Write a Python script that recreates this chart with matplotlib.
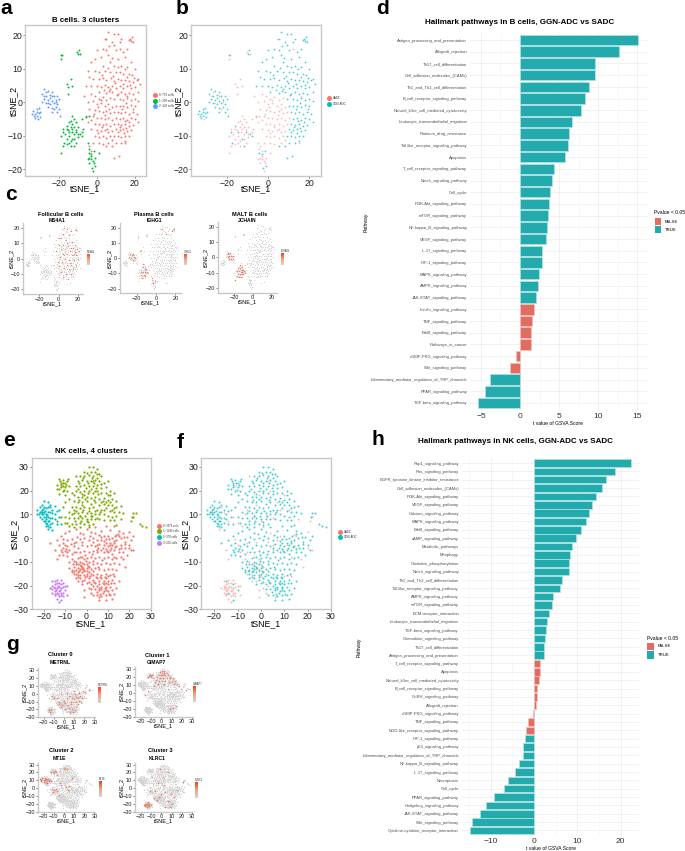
import matplotlib
matplotlib.use("Agg")
import matplotlib.pyplot as plt
import numpy as np
from matplotlib.colors import LinearSegmentedColormap
from matplotlib.patches import Rectangle

plt.rcParams['font.family'] = ['Liberation Sans', 'DejaVu Sans']

W, H = 685, 851

RED = "#F8766D"
TEAL = "#00BFC4"
BAR_RED = "#E06C62"
BAR_TEAL = "#22AAAD"

B0_GGN = [(6,21),(9,20.5),(11,20.5),(13,19),(5,19),(8,18),(12,18),(17.5,19),(18,18.3),(19,18),(17,18.5),(18.5,19.5),
 (3,16),(5,15.5),(9,17),(10,15.5),(14,15),(16,16),(0,15.5),(-1,13),(2,13.5),(6,14),(11,13),(15,13.5),(18,12),
 (-3,12),(3,11),(7,12),(9,11),(13,11),(16,10.5),(20,10),(-5,9.5),(-1,9.5),(1,9),(4,9.3),(7,9),(10,9.2),(12,9),
 (14,8.5),(17,8.5),(18.5,8.3),(22,7),(-4,7.5),(-2,7),(1,7),(3,7.2),(5,6.8),(7.5,7.2),(9,6.5),(11,7),(13,6.6),
 (15,6.8),(17,6.4),(19,6),(21,6.6),(-6,5),(-3,4.8),(0,5),(2,4.5),(4,5.2),(6,4.6),(7,4),(8,5),(10,4.4),(12,4.8),
 (14,4.2),(16,4.8),(18,4.2),(20,4.6),(23,5.5),(1,3),(5,2.8),(8,3.2),(11,2.5),(13,3),(15,2.4),(17,2.8),(19,2.5),
 (22,3),(9,1),(12,1),(14,0.6),(16,1.2),(18,0.6),(20,1),(22,0.5),(10,-1),(12,-1.2),(14,-1),(16,-1.4),(18,-0.8),
 (20,-1.2),(11,-3),(13,-3.2),(15,-2.8),(17,-3.4),(19,-3),(21,-3.5),(12,-5),(14,-4.6),(16,-5.2),(18,-4.8),(20,-5),
 (22,-6),(11,-6.5),(13,-6.8),(15,-6.4),(17,-7),(19,-6.8),(10,-8),(12,-8.4),(14,-8),(16,-8.6),(18,-8.2),(9,-10),
 (11,-10),(13,-10.4),(15,-10),(17,-10.2),(10,-12),(13,-12),(15,-11.6),(8,-13),(5,-13),(9,-16.5),(11.5,-16),
 (2.5,8.2),(5.6,10.4),(8.4,8),(11.3,10.6),(14.6,10),(15.8,7.7),(19.4,7.4),(6.5,3.4),(9.6,5.7),(3.6,3.6),(13.6,5.5),(17.7,5.3),
 (10.5,2.2),(15.5,-0.2),(19.3,-2.1),(13.4,-2),(17.2,-5.8),(14.7,-5.6),(12.4,-7.4),(15.4,-7.6),(11.2,-9),(14.2,-9.3),(6.6,16.7),(7.8,13.3)]
B0_SADC = [(-7,2),(-3,2.5),(-1,2),(1,1),(3,1.5),(5,0.6),(7,1.2),(-5,0),(-2,0.3),(0,-0.6),(2,-0.2),(4,-1),(6,-0.6),(8,-1.4),
 (-4,-2),(-1,-2.2),(1,-2.6),(3,-3),(5,-2.6),(7,-3.2),(9,-3),(-6,-4),(-2,-4.2),(0,-4.6),(2,-4.8),(4,-5),(6,-4.6),(8,-5.2),
 (10,-4.6),(-5,-6),(-1,-6.4),(1,-6.6),(3,-6.8),(5,-6.4),(7,-7),(9,-6.6),(-3,-8),(0,-8.2),(2,-8.6),(4,-8.4),(6,-9),(8,-8.6),
 (-1,-10),(1,-10.4),(3,-10),(5,-10.6),(7,-10.2),(-2,-12),(1,-12),(3,-12.5),(6,-12),(-4,-13),(-3,-14.5),(16,2),(15,-12),(4,19),(12,16),
 (2,0.8),(4.5,-3.8),(0.4,-1.4),(6.3,-2),(-3,-5.3),(2.6,-7.5),(5.4,-8),(0.6,-9.3),(8,-11.3),(-1.4,-3.4)]
B1_GGN = [(-19,14.2),(-9.5,15.5),(-10,14.4),(-15,-9),(-13,-11),(-11,-9),(-9,-9.6),(-17.5,-12),(-16,-7),(-8,-10),(-18,-9),
 (-12,-13),(-3,-15.5),(-1,-19),(-2.5,-19.5),(-1.5,-14.5),(-4.5,-15)]
B1_SADC = [(-19,13),(-18.5,14),(-10.5,15),(-9,14.5),(-14,7),(-16,5.5),(-15.5,4.5),(-13,5),(-15.5,2.5),(-6,-4.5),(-8,-5),(-4.5,-4),
 (-13,-4),(-12,-5),(-14,-5.5),(-15,-6),(-11,-6),(-13,-6.5),(-16,-8),(-14,-7.5),(-12,-7.5),(-10,-7.5),(-17,-9.5),(-15,-10),
 (-13.5,-9),(-12,-9.5),(-10,-9.5),(-8,-9),(-7.5,-8),(-16,-11),(-14,-11.5),(-12,-11),(-10,-10.5),(-16,-12.5),(-14,-13),(-19,-10),
 (-19,-15),(-18,-13),(-5,-12),(-4.5,-14),(-4,-16.5),(-3,-17),(-5,-17),(-2,-17.5),(-1,-16.5),(1,-15),(-4,-18),(-2,-20.5),(-1.5,-18),(-3,-16),
 (-15.5,-8.4),(-13,-8),(-11,-8.3),(-14.6,-12),(-18,-8),(-11,-12)]
B2_GGN = [(-28,4),(-26,3.5),(-24,3),(-29,2.5),(-27,2),(-25,2.2),(-23,1.8),(-21,2),(-28,1),(-26,0.8),(-25,1.2),(-24,0.5),(-22,0.8),
 (-20,1),(-29,0),(-27,-0.3),(-25,-0.5),(-23,-0.3),(-21,-0.6),(-26,-1.5),(-24,-1.8),(-22,-1.5),(-20,-2),(-24,-3),(-21,-3),(-19.5,-4),
 (-34,-2.5),(-33,-3.5),(-32,-2.8),(-31,-3.2),(-33.5,-4.2),(-32,-4),(-30.5,-4.3),(-32,-2),(-31,-1.6),(-34.5,-3.5),(-33,-4.8),(-30,-3)]
B2_SADC = [(-27,3),(-24,2),(-26,-0.2),(-22,0),(-28,2),(-23,-2),(-31.5,-5)]

NK0_GGN = [(-17,-2),(-14,-1),(-12,1),(-10,2),(-8,3),(-5,4),(-3,2),(0,4),(2,2.5),(4,4.5),(7,3),(9,5),(11,3.5),(13,5),(15,3),(17,2),(19,0.5),
 (21,-1),(22,1),(-13,-3),(-11,-2),(-9,-1),(-7,-0.5),(-5,-1.5),(-3,-0.5),(-1,0),(1,-1),(3,0),(5,-1),(7,0.5),(9,-0.5),(10,1),(12,0),(14,-1),
 (16,0),(18,-1.5),(20,-3),(-12,-5),(-11,-4),(-10,-5.5),(-9,-3.5),(-8,-5),(-6,-3.5),(-4,-4),(-2,-3),(0,-3.5),(2,-3),(4,-3.5),(6,-2.5),(8,-3),
 (9,-2),(10,-3.5),(11,-2),(12,-3),(13,-2),(14,-3.5),(16,-3),(18,-4),(-13,-7),(-11,-7),(-9,-7.5),(-7,-6.5),(-3,-6),(-1,-5.5),(1,-6),(3,-5.5),
 (5,-6),(7,-5),(8,-6),(9,-4.5),(10,-6),(11,-5),(12,-6.5),(13,-5),(15,-6),(17,-6),(19,-7),(21,-5),(-4,-8.5),(-2,-8),(0,-8.5),(2,-8),(4,-8.5),
 (6,-8),(8,-8.5),(10,-8),(12,-9),(14,-8.5),(16,-8),(-8,-10),(-6,-9.5),(-5,-11),(-3,-10),(-1,-11),(1,-10),(3,-11),(5,-10.5),(7,-11),(9,-10.5),
 (11,-11),(13,-10.5),(15,-11),(-8,-12.5),(-6,-12),(-5,-13.5),(-4,-12.5),(-3,-13),(-2,-12),(-1,-13.5),(0,-12.5),(2,-13),(4,-12.5),(6,-13),
 (8,-13.5),(10,-13),(12,-13),(14,-13.5),(-7,-14.5),(-5,-15),(-4,-14.5),(-3,-15.5),(-2,-14.5),(-1,-15.5),(0,-15),(1,-14.5),(3,-15.5),(5,-15),
 (7,-15.5),(9,-15),(11,-15.5),(-5,-17),(-3,-17),(-1,-17.5),(1,-17),(3,-17.5),(5,-17),(6,-18),(7,-17),(8,-18),(9,-17),(10,-18),(12,-17.5),
 (-2,-19.5),(0,-19),(2,-19.5),(4,-19),(5,-20),(6,-19.5),(7,-20.5),(8,-19.5),(9,-20.5),(10,-19.5),(11,-20.5),(13,-19),(15,-18),(2,-21.5),(4,-21.5),
 (6,-22),(7,-21.5),(8,-22.5),(9,-22),(10,-22.5),(12,-22),(14,-21),(3,-24),(5,-24),(7,-24.5),(9,-24),(11,-24),(13,-23.5),(6,-26),(9,-26),(12,-25.5),
 (-11.5,-6),(-9.6,-4.4),(-7.3,-2.3),(-4.6,0.6),(-1.5,1.7),(1.4,1),(5.7,1.4),(8.3,-1.2),(10.6,-0.6),(12.7,-1.2),(13.4,0.8),(9.6,-5.3),(11.5,-4),(13.5,-3.7),(7.7,-4),
 (15,-4.6),(5.3,-4.2),(2.7,-6.6),(-0.6,-7.2),(-4.8,-6),(7.2,-9.4),(3.2,-9.5),(-0.4,-9.6),(-6.4,-11),(-4,-11),(-2.2,-10.6),(0.5,-11.7),(-6.7,-13.3),(-3.5,-14),(-1.7,-12.8),
 (-5.7,-14),(-2.8,-11.8),(0.3,-13.8),(3,-14),(5.5,-12),(-3.8,-16.2),(-0.7,-16.2),(1.8,-16.1),(4.2,-16.4),(6.4,-16.2),(8.6,-16.4),(5.8,-21),(7.6,-18.8),(9,-18.8),(11.4,-19),
 (7.8,-23.2),(4.8,-22.7),(10.3,-23.4),(6.4,-23.6),(8.8,-21.2),(3.4,-18.3),(1,-18.5),(12.4,-15),(16.2,-4.3),(18.2,-2.7),(17.6,0.4),(14.8,1.6)]
NK0_SADC = [(-15,-5),(-10,-3),(-6,-2),(-2,-1.5),(3,-1.5),(7,-1),(15,1),(20,-4),(-7,-9),(-3,-8),(-1,-9),(-5,-10),(-3,-11.5),(-2,-13),(-4,-15.5),
 (-1,-14),(0,-11),(-6,-15),(2,-15),(1,-12),(-4,-18),(0,-16),(-2,-18),(3,-20),(1,-21),(6,-25),(-1,-22),(2,-23),(11,-3),(5,-3),(8,1),(13,-8),
 (17,-9),(-11,-0.5),(-14,-9),(20,2.5),(5,-5),(-6,-6),(4,2),(10,-16),(-9,-6),(13,-16),(-1,-25),(18,-12),(22,-5),(14,1.5)]
NK1_GGN = [(1,30),(3,30),(5,29),(-1,28),(2,28),(4,28),(6,27),(-3,26),(-1,26),(1,26.5),(3,26),(5,25.5),(7,26),(-4,24),(-2,24.5),(0,24),(2,24),(4,24.5),
 (6,24),(8,23),(10,24),(-5,22),(-3,22),(-1,22.5),(1,22),(3,22),(5,22.5),(7,21),(9,21.5),(11,20),(-5,20),(-3,19.5),(-1,20),(1,20),(3,19),(5,20),(7,19),
 (9,19),(11,18),(13,19),(-6,18),(-4,17.5),(-2,17.5),(0,17.5),(2,17),(4,17.5),(6,16.5),(8,17),(10,16),(12,16.5),(14,15.5),(-6,15.5),(-4,15),(-2,15),(0,15.5),
 (2,14.5),(4,15),(6,14),(8,14.5),(10,14),(12,14),(14,13),(16,13.5),(-7,13),(-5,13),(-3,12.5),(-1,13),(1,12.5),(3,13),(5,12),(7,12),(9,12.5),(11,11.5),
 (13,11),(15,11),(17,10.5),(-8,11),(-6,10.5),(-4,10.5),(-2,11),(0,10.5),(2,10.5),(4,10),(6,10),(8,10),(10,9.5),(12,9),(14,9.5),(-10,9),(-8,8.5),(-6,8.5),
 (-4,8.5),(-2,8.5),(0,8),(2,8),(4,8),(6,8),(8,7.5),(11,7.5),(13,7.5),(-9,6.5),(-7,6),(-5,6),(-3,6.5),(-1,6),(1,5.5),(3,6),(-6,4.5),(-3,4.5),(14,5.5),
 (-13,25),(-12,23),(-11,24.5),(-10,23),(-9,24),(-14,22.5),(-12,21.5),(-10,21.5),(-8,22),(-13,20.5),(-11,20),(-9,20),(-13,18.5),(-10,18),(-7,19),(-8,16.5),
 (-10,15),(-11,13),(22,10.5),(21.5,9),(23,10.5),(26,5),(28,4.5),(25,6),
 (0.4,27.4),(2.6,25.2),(4.8,26.8),(-1.8,25.2),(0.8,23),(-3.4,23.2),(3.3,23),(6.8,22.6),(-0.4,21),(2.2,20.7),(4.6,21),(-4.2,20.8),(-2,18.6),(0.7,18.8),(3.4,16),
 (-3.6,16.2),(-0.8,16.4),(5.3,18.4),(7.8,15.5),(-5,11.6),(-1.6,11.8),(1.2,11.4),(4,11.5),(6.5,11),(-3.2,9.4),(-0.6,9.2),(2.6,9.2),(-5.2,7.2),(-2.4,7.4),(0.8,6.8),
 (9.2,15.2),(11,15),(13,12.5),(-11.8,22.4),(-10.8,23.4),(-9.4,22.2),(-12.5,24),(-10.4,20.4),(-14,20.5),(-8.5,25)]
NK1_SADC = [(-5,26),(4,20),(-2,14),(2,9.5),(8,12),(-6,12),(10,18),(-11,22),(-8,5),(0,7),(5,8.5),(-12,9),(-3,9.5),(12,12),(-1,18),(3,24),(7,15),(16,8),(-7,10),(1,4.5),
 (22,9),(21,7),(-14,7),(-10,6.5)]
NK2_GGN = [(-23,12),(-22,13),(-21,14),(-20,15.5),(-18,15),(-17,14),(-15,13.5),(-23,10),(-22,11),(-21,12),(-20,13),(-19,12.5),(-18,13),(-16,12),(-14,11.5),(-13,12),
 (-22,9),(-21,10),(-20,11),(-19,10),(-18,11),(-17,11),(-15,10),(-13,9),(-21,8),(-20,9),(-19,8),(-18,9),(-17,8.5),(-15,8),(-20,7),(-19,6.5),(-18,7),(-17,6),(-16,6.5),
 (-19,5),(-18,5),(-17,4.5),(-16,3.5),(-14,6),(-12,6),(-21.4,11),(-20.4,10),(-19.4,11.6),(-18.6,9.8),(-20.6,12.4),(-19.6,7.4),(-18.4,6),(-17.6,7.4),(-16,8.6),(-22.4,10.2)]
NK2_SADC = [(-19,9),(-16,10.5),(-21,11),(-18,4),(-17,13)]
NK3_GGN = [(-15,-18),(-12,-19.5),(-14,-23),(-10,-22),(-12,-26)]
NK3_SADC = [(-16,-18),(-14,-17.5),(-12,-17.5),(-16,-20),(-15,-19.5),(-14,-19),(-13,-19),(-11,-19),(-17,-21),(-16,-21.5),(-15,-21),(-14,-21),(-13,-20.5),(-12,-21),
 (-11,-20.5),(-10,-20),(-9,-20),(-16,-23),(-15,-22.5),(-13,-22.5),(-12,-23),(-11,-23),(-15,-24),(-13,-24.5),(-11,-24.5),(-14,-25.5),(-13,-27),(-9,-24),
 (-15.4,-20.4),(-13.6,-20),(-14.4,-22),(-12.6,-22),(-13.6,-23.6),(-12,-24),(-15,-23.4)]

# cells lit up in the feature plots of panels c/g
HOT_MS4A1 = [(6,20),(9,19),(13,18),(18,18.5),(5,16),(11,15),(3,13),(8,12),(14,11),(17,9),(1,9),(5,9),(10,8),(15,7),(19,6),(3,6),(7,6),(12,5),(17,4),(21,5),(-3,5),
 (5,3),(9,3),(14,2),(18,2),(2,1),(7,0),(11,-1),(16,-1),(20,0),(-1,-2),(4,-2),(9,-4),(13,-4),(18,-4),(1,-5),(6,-6),(11,-7),(15,-7),(3,-9),(8,-10),(13,-10),(5,-12),(10,-13),
 (0,13),(13,7),(9,10),(16,3),(6,2),(12,-3)]
HOT_IGHG1 = [(-27,3),(-25,2),(-23,1),(-26,0),(-24,-1),(-22,0),(-14,-6),(-12,-7),(-16,-9),(-14,-9),(-11,-9),(-9,-9),(-16,-11),(-13,-11),(-15,-13),(-4,-13),(-3,-16),(-1,-15),
 (17,18),(19,19),(10,16),(6,19),(-17,5),(-24,3),(-28,1),(-10,-7),(-12,-12),(-14,-4)]
HOT_JCHAIN = [(-27,3),(-26,2),(-24,3),(-25,1),(-23,1),(-27,0),(-25,-1),(-23,-1),(-21,-1),(-21,1),(-14,-5),(-12,-6),(-16,-7),(-14,-7),(-12,-8),(-10,-8),(-17,-9),(-15,-9),(-13,-9.5),
 (-11,-9.5),(-9,-9),(-8,-10),(-16,-11),(-14,-11),(-12,-11),(-10,-11),(-15,-13),(-13,-13),(-17,-12),(-19,-15)]
HOT_METRNL = [(8,-5),(10,-7),(12,-4),(14,-6),(16,-3),(18,-5),(9,-10),(12,-10),(15,-9),(7,-13),(4,-14),(1,-12),(-2,-14),(-5,-13),(-3,-17),(1,-19),(5,-18),(8,-20),(11,-21),(9,-24),(6,-23),
 (12,-17),(-15,-21),(-13,-20),(-14,-24),(-10,-5),(-12,-3),(-7,-6),(3,-6),(6,-3),(11,-1),(15,1),(19,3),(10,3),(3,1),(-3,-1),(14,-13),(17,-10),(7,-10),(0,-9),(-5,-10),(21,2),(25,5)]
HOT_GIMAP7 = [(1,28),(3,27),(-1,26),(1,25),(3,24.5),(5,25),(-2,23),(0,22),(2,22),(4,22),(6,22),(8,20),(-4,20),(-1,19),(2,19),(5,18),(8,18),(11,17),(-5,16),(-2,15),(1,15),(4,15),(7,14),
 (10,14),(13,15),(-11,22),(-12,21),(-10,21),(-9,23),(-13,20),(-8,19),(-6,13),(-3,11),(3,11),(12,11),(15,11),(17,8),(-7,8),(-13,2),(-16,-3),(6,5),(19,5),(24,3),(14,-17),(8,-21),(11,-19)]
HOT_MT1E = [(-23,12),(-22,10),(-21,13),(-20,11),(-19,13),(-18,12),(-22,9),(-20,8),(-19,10),(-18,8),(-17,10),(-16,12),(-15,9),(-14,11),(-13,9),(-17,6),(-11,21),(-9,22),(-13,20),(-10,19),(-8,20),(-7,17),
 (-12,-1),(-10,-3),(-8,-1),(-11,-5),(-7,-4),(1,26),(3,25),(0,24),(5,3),(2,1),(-3,4),(4,-2),(-5,-9),(8,13),(-4,7)]
HOT_KLRC1 = [(-16,-20),(-15,-22),(-14,-20),(-13,-21),(-12,-23),(-14,-24),(-16,-23),(-12,-20),(-13,-18),(-10,-22),(-17,-21),(-7,-13),(-4,-15),(-2,-11),(0,-7),(4,-5),(9,-8),(-6,-4),(-3,7),(2,14),(6,20),(-1,25),
 (10,-20),(6,-16),(12,-12),(15,-3),(21,8),(3,4),(-9,14),(-11,-4),(4,-24),(8,-24)]

# clusters and legends
B_LEGEND = ["0~759 cells", "1~209 cells", "2~128 cells"]
B_COLORS = ["#F8766D", "#00BA38", "#619CFF"]
NK_LEGEND = ["0~2376 cells", "1~1486 cells", "2~370 cells", "3~200 cells"]
NK_COLORS = ["#F8766D", "#7CAE00", "#00BFC4", "#C77CFF"]
COND_LABELS = ["SADC", "GGN-ADC"]

# bar panels
B_PATHWAYS = ["Antigen_processing_and_presentation", "Allograft_rejection", "Th17_cell_differentiation",
 "Cell_adhesion_molecules_(CAMs)", "Th1_and_Th2_cell_differentiation", "B_cell_receptor_signaling_pathway",
 "Natural_killer_cell_mediated_cytotoxicity", "Leukocyte_transendothelial_migration", "Platinum_drug_resistance",
 "Toll-like_receptor_signaling_pathway", "Apoptosis", "T_cell_receptor_signaling_pathway", "Notch_signaling_pathway",
 "Cell_cycle", "PI3K-Akt_signaling_pathway", "mTOR_signaling_pathway", "NF-kappa_B_signaling_pathway",
 "VEGF_signaling_pathway", "IL-17_signaling_pathway", "HIF-1_signaling_pathway", "MAPK_signaling_pathway",
 "AMPK_signaling_pathway", "JAK-STAT_signaling_pathway", "Insulin_signaling_pathway", "TNF_signaling_pathway",
 "ErbB_signaling_pathway", "Pathways_in_cancer", "cGMP-PKG_signaling_pathway", "Wnt_signaling_pathway",
 "Inflammatory_mediator_regulation_of_TRP_channels", "PPAR_signaling_pathway", "TGF-beta_signaling_pathway"]
B_TVALUES = [15.15, 12.6, 9.6, 9.55, 8.85, 8.3, 7.85, 6.6, 6.2, 6.1, 5.8, 4.4, 4.05, 3.85, 3.7, 3.6, 3.45, 3.35, 2.8, 2.8,
 2.45, 2.3, 2.1, 1.8, 1.5, 1.4, 1.35, -0.55, -1.25, -3.85, -4.45, -5.35]
B_NOT_SIG = ["Insulin_signaling_pathway", "TNF_signaling_pathway", "ErbB_signaling_pathway", "Pathways_in_cancer",
 "cGMP-PKG_signaling_pathway", "Wnt_signaling_pathway"]

NK_PATHWAYS = ["Rap1_signaling_pathway", "Ras_signaling_pathway", "EGFR_tyrosine_kinase_inhibitor_resistance",
 "Cell_adhesion_molecules_(CAMs)", "PI3K-Akt_signaling_pathway", "VEGF_signaling_pathway", "Calcium_signaling_pathway",
 "MAPK_signaling_pathway", "ErbB_signaling_pathway", "cAMP_signaling_pathway", "Metabolic_pathways", "Mitophagy",
 "Oxidative_phosphorylation", "Notch_signaling_pathway", "Th1_and_Th2_cell_differentiation",
 "Toll-like_receptor_signaling_pathway", "AMPK_signaling_pathway", "mTOR_signaling_pathway", "ECM-receptor_interaction",
 "Leukocyte_transendothelial_migration", "TGF-beta_signaling_pathway", "Chemokine_signaling_pathway",
 "Th17_cell_differentiation", "Antigen_processing_and_presentation", "T_cell_receptor_signaling_pathway", "Apoptosis",
 "Natural_killer_cell_mediated_cytotoxicity", "B_cell_receptor_signaling_pathway", "GnRH_signaling_pathway",
 "Allograft_rejection", "cGMP-PKG_signaling_pathway", "TNF_signaling_pathway", "NOD-like_receptor_signaling_pathway",
 "HIF-1_signaling_pathway", "p53_signaling_pathway", "Inflammatory_mediator_regulation_of_TRP_channels",
 "NF-kappa_B_signaling_pathway", "IL-17_signaling_pathway", "Necroptosis", "Cell_cycle", "PPAR_signaling_pathway",
 "Hedgehog_signaling_pathway", "JAK-STAT_signaling_pathway", "Wnt_signaling_pathway",
 "Cytokine-cytokine_receptor_interaction"]
NK_TVALUES = [22.3, 18.7, 16.65, 15.6, 14.2, 13.35, 12.6, 12.0, 10.75, 9.65, 8.7, 8.2, 8.05, 8.05, 6.4, 6.05, 4.45, 4.2, 3.4,
 3.0, 2.85, 2.55, 2.4, 2.3, 1.45, 1.4, 1.15, 0.7, 0.6, 0.4, -0.15, -1.4, -1.85, -2.0, -2.45, -2.6, -3.45, -4.35, -6.05,
 -6.85, -9.15, -11.05, -12.35, -14.35, -14.65]
NK_NOT_SIG = ["T_cell_receptor_signaling_pathway", "Apoptosis", "Natural_killer_cell_mediated_cytotoxicity",
 "B_cell_receptor_signaling_pathway", "GnRH_signaling_pathway", "Allograft_rejection", "cGMP-PKG_signaling_pathway",
 "TNF_signaling_pathway", "NOD-like_receptor_signaling_pathway"]

fig = plt.figure(figsize=(W / 100, H / 100), dpi=100)
fmap = LinearSegmentedColormap.from_list("expr", ["#d3d3d3", "#f4a582", "#e8402a"])


def px_ax(l, t, r, b):
    return fig.add_axes([l / W, 1 - b / H, (r - l) / W, (b - t) / H])


def px_text(x, y, s, **kw):
    kw.setdefault("va", "center")
    kw.setdefault("color", "black")
    fig.text(x / W, 1 - y / H, s, **kw)


def xy(points):
    arr = np.array(points, dtype=float)
    return arr[:, 0], arr[:, 1]


def dots(l_px, y_list, labels, colors, size, fsize):
    for y, lab, col in zip(y_list, labels, colors):
        fig.add_artist(plt.Line2D([l_px / W], [1 - y / H], marker="o", ms=size, color=col, mew=0))
        px_text(l_px + 4, y, lab, fontsize=fsize, color="#333333")


def tsne_box(ax, box, xlim, ylim, xticks, yticks, fs, ylab_off, xlab_off):
    # axis labels sit at fixed pixel offsets from the frame, the y one runs into the tick column
    ax.set_xlim(xlim)
    ax.set_ylim(ylim)
    ax.set_xticks(xticks)
    ax.set_yticks(yticks)
    ax.tick_params(labelsize=fs, length=1.2, width=0.4, pad=0.8, colors="#222222")
    for s in ax.spines.values():
        s.set_color("#c8c8c8")
        s.set_linewidth(1.0)
    ax.set_xlabel("tSNE_1", fontsize=fs)
    ax.set_ylabel("tSNE_2", fontsize=fs)
    l, t, r, b = box
    ax.xaxis.set_label_coords(0.5, -xlab_off / (b - t))
    ax.yaxis.set_label_coords(-ylab_off / (r - l), 0.5)


def cluster_panel(box, groups, colors, xlim, ylim, xticks, yticks, ms, ylab_off, xlab_off):
    ax = px_ax(*box)
    for pts, col in zip(groups, colors):
        x, y = xy(pts)
        ax.scatter(x, y, s=ms, c=col, linewidths=0)
    tsne_box(ax, box, xlim, ylim, xticks, yticks, 6.3, ylab_off, xlab_off)
    return ax


def condition_panel(box, sadc, ggn, xlim, ylim, xticks, yticks, ms, ylab_off, xlab_off):
    ax = px_ax(*box)
    x, y = xy(ggn)
    ax.scatter(x, y, s=ms, c=TEAL, linewidths=0, alpha=0.75)
    x, y = xy(sadc)
    ax.scatter(x, y, s=ms, c=RED, linewidths=0, alpha=0.5)
    tsne_box(ax, box, xlim, ylim, xticks, yticks, 6.3, ylab_off, xlab_off)
    return ax


def feature_panel(box, cells, hot, xlim, ylim, xticks, yticks, title, gene, title_xy, gene_xy, cbar, ms, ylab_off, xlab_off):
    ax = px_ax(*box)
    x, y = xy(cells)
    ax.scatter(x, y, s=ms, c="#d2d2d2", linewidths=0)
    x, y = xy(hot)
    ax.scatter(x, y, s=ms * 1.2, c="#ee6a50", linewidths=0, alpha=0.85)
    tsne_box(ax, box, xlim, ylim, xticks, yticks, 4.0, ylab_off, xlab_off)
    ax.spines["top"].set_visible(False)
    ax.spines["right"].set_visible(False)
    px_text(title_xy[0], title_xy[1], title, fontsize=4.1, fontweight="bold", ha="center")
    px_text(gene_xy[0], gene_xy[1], gene, fontsize=3.6, fontweight="bold", ha="center")
    cax = px_ax(*cbar)
    cax.imshow(np.linspace(1, 0, 30)[:, None], aspect="auto", cmap=fmap)
    cax.set_xticks([])
    cax.set_yticks([])
    for s in cax.spines.values():
        s.set_visible(False)
    px_text(cbar[0], cbar[1] - 2, gene, fontsize=1.8, color="#333333")


def bar_panel(l, t, r, b, pathways, tvals, not_sig, xlim, major, minor, label_fs, tick_pad):
    ax = px_ax(l, t, r, b)
    n = len(pathways)
    pos = np.arange(n)[::-1]
    cols = [BAR_RED if p in not_sig else BAR_TEAL for p in pathways]
    edges = ["#f2c3bd" if p in not_sig else "#b5e3e3" for p in pathways]
    ax.barh(pos, tvals, height=0.9, color=cols, edgecolor=edges, linewidth=0.5, zorder=3)
    ax.set_ylim(-0.6, n - 0.4)
    ax.set_xlim(xlim)
    ax.set_xticks(major)
    ax.set_xticks(minor, minor=True)
    ax.set_yticks(pos)
    ax.set_yticklabels(pathways, fontsize=label_fs, color="#4d4d4d")
    ax.tick_params(axis="both", which="both", length=0)
    ax.tick_params(axis="x", labelsize=6, pad=tick_pad, labelcolor="#333333")
    ax.tick_params(axis="y", pad=2)
    ax.grid(True, which="major", color="#ececec", lw=0.5, zorder=0)
    ax.grid(True, which="minor", axis="x", color="#f3f3f3", lw=0.4, zorder=0)
    for s in ax.spines.values():
        s.set_visible(False)
    return ax


def sig_legend(x, y_title, y1, y2, h, w):
    px_text(x, y_title, "Pvalue < 0.05", fontsize=3.6)
    for y, col, lab in [(y1, BAR_RED, "FALSE"), (y2, BAR_TEAL, "TRUE")]:
        fig.add_artist(Rectangle((x / W, 1 - (y + h) / H), w / W, h / H, transform=fig.transFigure, color=col, lw=0))
        px_text(x + w + 3.5, y + h / 2, lab, fontsize=3.1)


B_CELLS = B0_GGN + B0_SADC + B1_GGN + B1_SADC + B2_GGN + B2_SADC
NK_CELLS = NK0_GGN + NK0_SADC + NK1_GGN + NK1_SADC + NK2_GGN + NK2_SADC + NK3_GGN + NK3_SADC

# a, b
b_yticks = [-20, -10, 0, 10, 20]
b_xticks = [-20, 0, 20]
cluster_panel((25, 25, 146, 176), [B0_GGN + B0_SADC, B1_GGN + B1_SADC, B2_GGN + B2_SADC], B_COLORS,
              (-38.2, 26), (-22, 23.1), b_xticks, b_yticks, 2.0, 6.5, 8.5)
px_text(86, 20.5, "B cells. 3 clusters", fontsize=5.7, fontweight="bold", ha="center")
dots(155, [95.3, 100.7, 106.3], B_LEGEND, B_COLORS, 3.6, 2.1)

condition_panel((191, 25, 321, 176), B0_SADC + B1_SADC + B2_SADC, B0_GGN + B1_GGN + B2_GGN,
                (-37.7, 25.7), (-22, 23.1), b_xticks, b_yticks, 1.6, 7.5, 8.5)
dots(329.3, [98, 103.7], COND_LABELS, [RED, TEAL], 3.6, 2.1)

# c
c_panels = [
    ((22.7, 223, 83, 294), HOT_MS4A1, "Follicular B cells", "MS4A1", (60.5, 214), (57.3, 220.7), (86.7, 254, 89, 265), 8),
    ((120, 223, 180.7, 293.3), HOT_IGHG1, "Plasma B cells", "IGHG1", (154, 214), (154.7, 221), (184, 254, 186.7, 265), 8),
    ((217.7, 222, 276.7, 292.7), HOT_JCHAIN, "MALT B cells", "JCHAIN", (250, 214), (247, 220.5), (280.7, 253.3, 283.3, 265), 9),
]
for box, hot, title, gene, txy, gxy, cbar, yoff in c_panels:
    feature_panel(box, B_CELLS, hot, (-37.5, 25.6), (-23, 23), b_xticks, b_yticks, title, gene, txy, gxy, cbar, 0.8, yoff, 7)

# e, f
nk_xticks = [-20, -10, 0, 10, 20, 30]
nk_yticks = [-30, -20, -10, 0, 10, 20, 30]
cluster_panel((31.7, 458.3, 151, 609.3), [NK0_GGN + NK0_SADC, NK1_GGN + NK1_SADC, NK2_GGN + NK2_SADC, NK3_GGN + NK3_SADC],
              NK_COLORS, (-25.7, 30.2), (-29.8, 33.6), nk_xticks, nk_yticks, 2.6, 12.5, 9.5)
px_text(91, 451, "NK cells, 4 clusters", fontsize=5.7, fontweight="bold", ha="center")
dots(159, [525.7, 531.3, 537, 542.7], NK_LEGEND, NK_COLORS, 3.6, 2.0)

condition_panel((201.3, 458.3, 331, 609.3), NK0_SADC + NK1_SADC + NK2_SADC + NK3_SADC, NK0_GGN + NK1_GGN + NK2_GGN + NK3_GGN,
                (-25.6, 30), (-29.8, 33.6), nk_xticks, nk_yticks, 2.0, 11, 9.5)
dots(340, [531.7, 537.3], COND_LABELS, [RED, TEAL], 3.6, 2.1)

# g
g_panels = [
    ((37.7, 668.3, 95, 717.3), HOT_METRNL, "Cluster 0", "METRNL", (60, 655), (60, 663), (97.7, 686.7, 100.3, 702.7)),
    ((135, 667, 192.7, 716.7), HOT_GIMAP7, "Cluster 1", "GIMAP7", (157, 655.5), (156, 662), (193.3, 686, 196, 702)),
    ((37.7, 762.7, 95, 811.7), HOT_MT1E, "Cluster 2", "MT1E", (61, 750), (59.7, 758), (98.7, 781.3, 101.3, 797.3)),
    ((135, 762.7, 192.7, 811.7), HOT_KLRC1, "Cluster 3", "KLRC1", (160, 750), (157.3, 758), (195, 782, 197.7, 798)),
]
for box, hot, title, gene, txy, gxy, cbar in g_panels:
    feature_panel(box, NK_CELLS, hot, (-25.7, 30.5), (-30.2, 32.5), nk_xticks, nk_yticks, title, gene, txy, gxy, cbar, 1.1, 10.5, 7)

# d
bar_panel(470, 33, 646.7, 410, B_PATHWAYS, B_TVALUES, B_NOT_SIG, (-6.4, 16.2), [-5, 0, 5, 10, 15], [-2.5, 2.5, 7.5, 12.5], 2.95, 2.2)
px_text(519.3, 22.3, "Hallmark pathways in B cells, GGN-ADC vs SADC", fontsize=5.8, fontweight="bold", ha="center")
px_text(558, 423.7, "t value of GSVA Score", fontsize=3.6, ha="center")
px_text(366, 222, "Pathway", fontsize=3.6, rotation=90, ha="center")
sig_legend(654.5, 213, 218.3, 226.3, 7, 6.8)

# h
bar_panel(461.7, 458, 639, 835.5, NK_PATHWAYS, NK_TVALUES, NK_NOT_SIG, (-16.65, 24.2), [-10, 0, 10, 20], [-15, -5, 5, 15], 2.95, 1.5)
px_text(515, 441.7, "Hallmark pathways in NK cells, GGN-ADC vs SADC", fontsize=5.8, fontweight="bold", ha="center")
px_text(550.7, 848.3, "t value of GSVA Score", fontsize=3.6, ha="center")
px_text(359.3, 647.7, "Pathway", fontsize=3.6, rotation=90, ha="center")
sig_legend(646.7, 638, 642.7, 651.3, 7.5, 7.3)

# panel letters
for x, y, s in [(0, 9, "a"), (176, 8, "b"), (5, 195, "c"), (376, 8, "d"), (3, 441, "e"), (177, 443, "f"), (6, 645, "g"), (371, 440, "h")]:
    px_text(x, y, s, fontsize=15, fontweight="bold")

fig.savefig("out.png", dpi=100, facecolor="white")
